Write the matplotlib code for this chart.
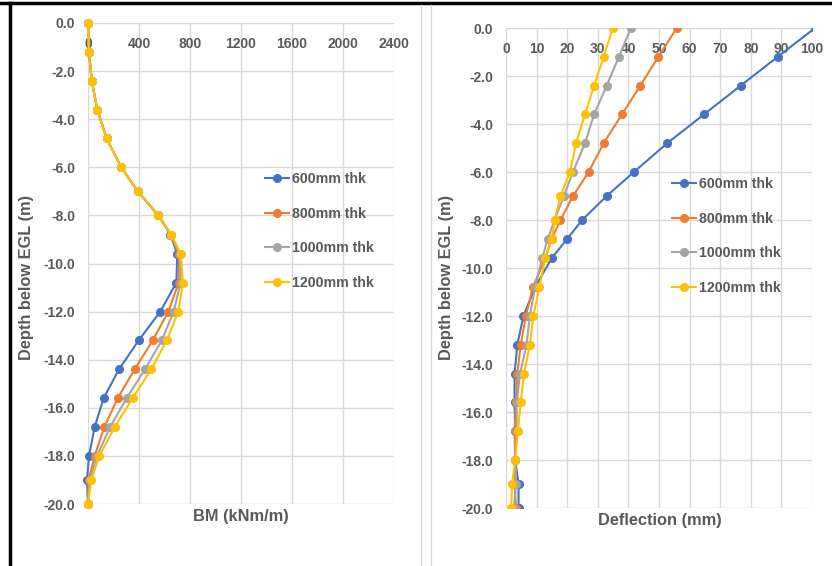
import numpy as np
import matplotlib
matplotlib.use("Agg")
import matplotlib.pyplot as plt
from matplotlib.lines import Line2D

plt.rcParams['font.family'] = ['Liberation Sans', 'DejaVu Sans']

# Данные
depth = [0.0, -1.2, -2.4, -3.6, -4.8, -6.0, -7.0, -8.0, -8.8, -9.6,
         -10.8, -12.0, -13.2, -14.4, -15.6, -16.8, -18.0, -19.0, -20.0]
labels = ['600mm thk', '800mm thk', '1000mm thk', '1200mm thk']
colors = ['#4472C4', '#ED7D31', '#A5A5A5', '#FFC000']

bm_600 = [0, 8, 29, 73, 146, 261, 390, 552, 647, 700, 693, 567, 397, 243, 123, 52, 8, -8, 0]
bm_800 = [0, 8, 29, 73, 146, 261, 390, 552, 650, 712, 711, 630, 507, 366, 233, 128, 52, 5, 0]
bm_1000 = [0, 8, 29, 73, 146, 261, 390, 552, 652, 720, 727, 672, 578, 447, 303, 173, 71, 13, 0]
bm_1200 = [0, 8, 29, 73, 146, 261, 390, 552, 654, 727, 745, 708, 617, 497, 350, 209, 89, 26, 0]

defl_600 = [101, 88.8, 76.7, 64.7, 52.7, 41.8, 32.9, 24.9, 19.9, 14.9, 9.5, 5.7, 3.7, 2.8, 2.8, 3.0, 3.0, 4.1, 4.1]
defl_800 = [55.8, 49.8, 43.9, 37.9, 31.9, 27.0, 21.9, 17.8, 14.9, 12.8, 8.8, 6.5, 4.8, 3.7, 3.3, 2.8, 3.0, 2.8, 3.3]
defl_1000 = [40.8, 36.9, 32.9, 28.8, 25.8, 21.9, 18.9, 15.9, 13.6, 11.8, 9.5, 7.8, 6.7, 4.6, 3.5, 3.5, 3.0, 3.3, 2.6]
defl_1200 = [34.9, 31.9, 28.8, 25.8, 22.9, 20.9, 17.8, 15.9, 14.9, 12.8, 10.9, 8.9, 7.8, 5.9, 4.8, 3.9, 3.0, 2.0, 1.7]

W, H = 832, 566
txt = '#595959'
grid_c = '#D9D9D9'

fig = plt.figure(figsize=(W / 100, H / 100), dpi=100)


def make_axes(px_left, px_top, px_right, px_bottom):
    ax = fig.add_axes([px_left / W, 1 - px_bottom / H,
                       (px_right - px_left) / W, (px_bottom - px_top) / H])
    for s in ax.spines.values():
        s.set_visible(False)
    ax.grid(True, color=grid_c, linewidth=1.0)
    ax.set_axisbelow(True)
    ax.xaxis.set_ticks_position('top')
    ax.tick_params(axis='x', length=0, pad=-20, labelsize=10, labelcolor=txt)
    ax.tick_params(axis='y', length=0, pad=9, labelsize=10, labelcolor=txt)
    ax.set_ylim(-20, 0)
    ax.set_yticks(np.arange(-20, 0.1, 2))
    ax.yaxis.set_major_formatter(matplotlib.ticker.FormatStrFormatter('%.1f'))
    return ax


# Изгибающий момент
ax1 = make_axes(88, 23, 394, 504)
for vals, c, lab in zip([bm_600, bm_800, bm_1000, bm_1200], colors, labels):
    ax1.plot(vals, depth, color=c, lw=1.5, marker='o', ms=5.5, label=lab, clip_on=False)
ax1.set_xlim(0, 2400)
ax1.set_xticks(np.arange(0, 2401, 400))
for lab in ax1.get_xticklabels() + ax1.get_yticklabels():
    lab.set_fontweight('bold')
ax1.legend(loc='center left', bbox_to_anchor=(265 / W, 1 - 231 / H),
           bbox_transform=fig.transFigure, frameon=False, borderpad=0,
           borderaxespad=0, handlelength=1.7, handletextpad=0.2,
           labelspacing=1.45, prop={'weight': 'bold', 'size': 10.2},
           labelcolor=txt)

# Прогиб
ax2 = make_axes(506, 28, 812, 508)
for vals, c, lab in zip([defl_600, defl_800, defl_1000, defl_1200], colors, labels):
    ax2.plot(vals, depth, color=c, lw=1.5, marker='o', ms=5.5, label=lab)
ax2.set_xlim(0, 100)
ax2.set_xticks(np.arange(0, 101, 10))
for lab in ax2.get_xticklabels() + ax2.get_yticklabels():
    lab.set_fontweight('bold')
ax2.legend(loc='center left', bbox_to_anchor=(672 / W, 1 - 236 / H),
           bbox_transform=fig.transFigure, frameon=False, borderpad=0,
           borderaxespad=0, handlelength=1.7, handletextpad=0.2,
           labelspacing=1.45, prop={'weight': 'bold', 'size': 10.2},
           labelcolor=txt)

# Подписи осей
fig.text(241 / W, 1 - 517 / H, 'BM (kNm/m)', ha='center', va='center',
         fontsize=11.8, fontweight='bold', color=txt)
fig.text(660 / W, 1 - 520 / H, 'Deflection (mm)', ha='center', va='center',
         fontsize=11.8, fontweight='bold', color=txt)
fig.text(27 / W, 1 - 277 / H, 'Depth below EGL (m)', ha='center', va='center',
         rotation=90, fontsize=11.8, fontweight='bold', color=txt)
fig.text(447 / W, 1 - 277 / H, 'Depth below EGL (m)', ha='center', va='center',
         rotation=90, fontsize=11.8, fontweight='bold', color=txt)

# Рамки
fig.add_artist(Line2D([0, 1], [1 - 3 / H, 1 - 3 / H], color='black', lw=2.5))
fig.add_artist(Line2D([10 / W, 10 / W], [0, 1 - 3 / H], color='black', lw=2.5))
fig.add_artist(Line2D([421 / W, 421 / W], [0, 1 - 5 / H], color=grid_c, lw=1))
fig.add_artist(Line2D([431 / W, 431 / W], [0, 1 - 5 / H], color=grid_c, lw=1))

fig.savefig('out.png', dpi=100)
